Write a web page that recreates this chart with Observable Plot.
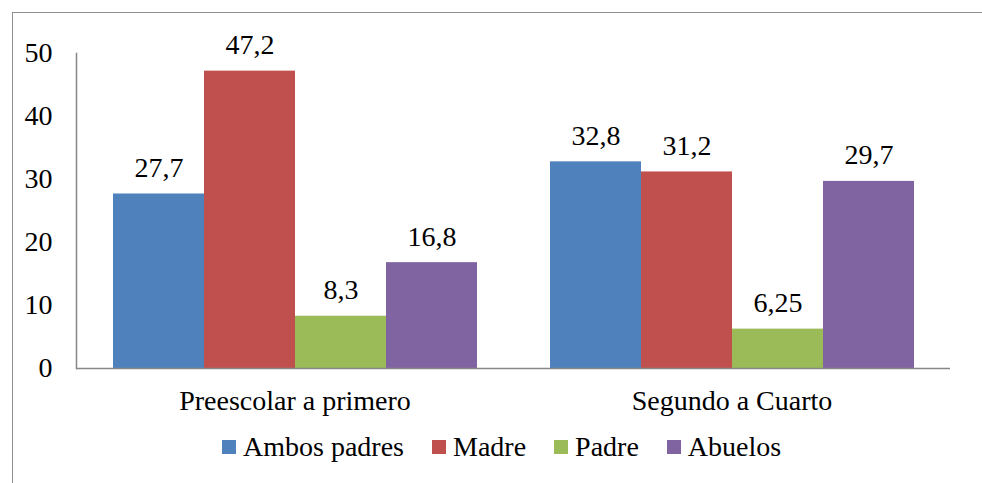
<!DOCTYPE html>
<html>
<head>
<meta charset="utf-8">
<script src="https://cdn.jsdelivr.net/npm/d3@7"></script>
<script src="https://cdn.jsdelivr.net/npm/@observablehq/plot@0.6"></script>
<style>
  html, body { margin: 0; padding: 0; background: #fff; }
  #wrap { position: relative; width: 982px; height: 483px; overflow: hidden; font-family: "Liberation Serif", serif; }
  #frame { position: absolute; left: 12px; top: 12px; width: 1000px; height: 500px; border-left: 1.5px solid #8f8f8f; border-top: 1.5px solid #8f8f8f; }
  #chart { position: absolute; left: 0; top: 0; }
  #legend { position: absolute; left: 222px; top: 431px; display: flex; align-items: center; font-family: "Liberation Serif", serif; font-size: 28px; color: #000; white-space: nowrap; }
  #legend .item { display: flex; align-items: center; margin-right: 28px; }
  #legend .sw { width: 14px; height: 14px; margin-right: 7px; }
</style>
</head>
<body>
<div id="wrap">
  <div id="frame"></div>
  <div id="chart"></div>
  <div id="legend"></div>
</div>
<script>
const groups = ["Preescolar a primero", "Segundo a Cuarto"];
const series = ["Ambos padres", "Madre", "Padre", "Abuelos"];
const preescolarValues = [27.7, 47.2, 8.3, 16.8];
const segundoValues = [32.8, 31.2, 6.25, 29.7];
const seriesColors = ["#4F81BD", "#C0504D", "#9BBB59", "#8064A2"];
const yTicks = [0, 10, 20, 30, 40, 50];

const groupValues = [preescolarValues, segundoValues];
const data = groups.flatMap((g, i) => series.map((s, j) => ({group: g, series: s, value: groupValues[i][j]})));

const axisColor = "#878787";
const serif = "'Liberation Serif', serif";

const chart = Plot.plot({
  width: 982,
  height: 420,
  marginLeft: 76,
  marginRight: 32,
  marginTop: 53,
  marginBottom: 52,
  style: {fontFamily: serif, fontSize: "28px", color: "#000", background: "transparent", overflow: "visible"},
  fx: {domain: groups, padding: 0, label: null, axis: "bottom", tickSize: 0, tickPadding: 22},
  x: {domain: series, paddingInner: 0, paddingOuter: 0.381, axis: null},
  y: {domain: [0, 50], ticks: yTicks, tickSize: 0, tickPadding: 24, label: null, tickFormat: d => String(d)},
  color: {domain: series, range: seriesColors},
  marks: [
    Plot.barY(data, {fx: "group", x: "series", y: "value", fill: "series"}),
    Plot.text(data, {fx: "group", x: "series", y: "value", text: d => String(d.value).replace(".", ","), dy: -26, fill: "#000", fontFamily: serif, fontSize: 28}),
    Plot.ruleY([0], {stroke: axisColor, strokeWidth: 1.5}),
    Plot.frame({anchor: "left", facet: "super", stroke: axisColor, strokeWidth: 1.5})
  ]
});
document.getElementById("chart").appendChild(chart);

const legend = document.getElementById("legend");
series.forEach((s, i) => {
  const item = document.createElement("div");
  item.className = "item";
  const sw = document.createElement("div");
  sw.className = "sw";
  sw.style.background = seriesColors[i];
  const label = document.createElement("span");
  label.textContent = s;
  item.appendChild(sw);
  item.appendChild(label);
  legend.appendChild(item);
});
</script>
</body>
</html>
